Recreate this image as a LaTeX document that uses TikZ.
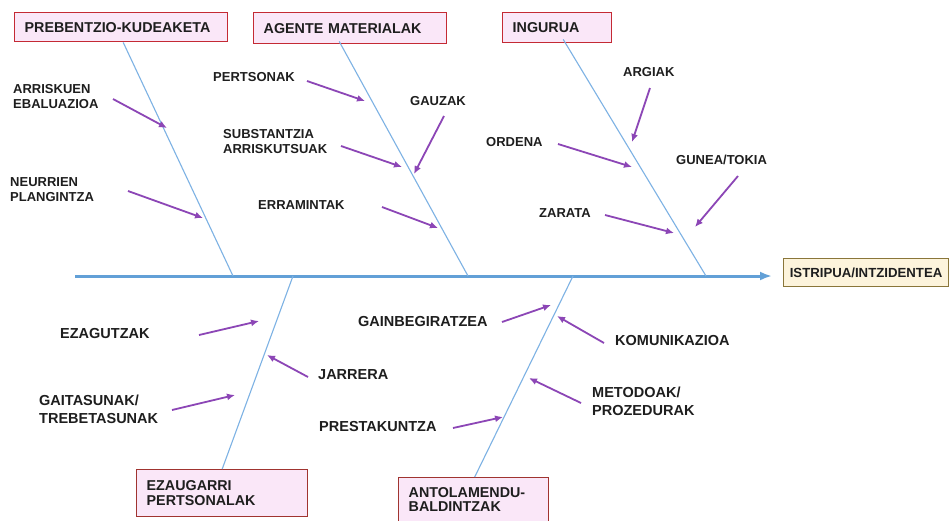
\documentclass[tikz,border=0pt]{standalone}
\usepackage{fontspec}
\setmainfont{Liberation Sans}
\usepackage{tikz}
\usetikzlibrary{calc, arrows.meta, positioning}
\usepackage{xcolor}

\definecolor{spineblue}{RGB}{98,160,215}
\definecolor{boneblue}{RGB}{125,178,228}
\definecolor{causepurple}{RGB}{140,70,182}
\definecolor{catfill}{RGB}{250,231,248}
\definecolor{catred}{RGB}{196,42,52}
\definecolor{catbrown}{RGB}{160,52,48}
\definecolor{resfill}{RGB}{253,244,220}
\definecolor{resdraw}{RGB}{138,118,58}
\definecolor{txtgray}{RGB}{30,30,30}

\begin{document}
\begin{tikzpicture}[x=1pt, y=-1pt,
    catbox/.style={draw=catred, line width=1.4pt, fill=catfill, anchor=north west,
      inner xsep=10pt, align=left, text=txtgray, font=\bfseries\fontsize{14.3}{14.5}\selectfont},
    resbox/.style={draw=resdraw, line width=1.1pt, fill=resfill, anchor=north west,
      minimum width=165pt, minimum height=28pt, inner sep=0pt, text=txtgray,
      font=\bfseries\fontsize{13.2}{15}\selectfont},
    toplbl/.style={anchor=west, inner sep=0pt, align=left, text=txtgray,
      font=\bfseries\fontsize{13}{15}\selectfont},
    botlbl/.style={anchor=west, inner sep=0pt, align=left, text=txtgray,
      font=\bfseries\fontsize{14.5}{18}\selectfont},
    spine/.style={draw=spineblue, line width=3pt, -{Latex[length=12pt,width=9pt]}},
    bone/.style={draw=boneblue, line width=1.1pt},
    cause/.style={draw=causepurple, line width=1.8pt, -{Latex[length=8pt,width=7pt]}}]
  \clip (0,0) rectangle (952,520);
  \fill[white] (0,0) rectangle (952,520);

  % category boxes
  \node[catbox, text width=193pt, minimum height=29pt] (cat-pre) at (14,12) {PREBENTZIO-KUDEAKETA};
  \node[catbox, text width=173pt, minimum height=31pt] (cat-age) at (253,12) {AGENTE MATERIALAK};
  \node[catbox, text width=89pt, minimum height=30pt] (cat-ing) at (502,12) {INGURUA};
  \node[catbox, draw=catbrown, text width=151pt, minimum height=47pt] (cat-eza) at (136,469) {EZAUGARRI\\PERTSONALAK};
  \node[catbox, draw=catbrown, text width=130pt, minimum height=44pt] (cat-ant) at (398,477) {ANTOLAMENDU-\\BALDINTZAK};
  \node[resbox] (res) at (783,258) {ISTRIPUA/INTZIDENTEA};

  % spine and bones
  \coordinate (sp0) at (75,276);
  \draw[spine, shorten >=11pt] (sp0) -- (sp0 -| res.west);
  \coordinate (b-pre) at (233,276);
  \coordinate (b-age) at (468,276);
  \coordinate (b-ing) at (706,276);
  \coordinate (b-eza) at (293,276);
  \coordinate (b-ant) at (573,276);
  \draw[bone] ([xshift=2pt]cat-pre.south) -- (b-pre);
  \draw[bone] ([xshift=-11pt,yshift=3pt]cat-age.south) -- (b-age);
  \draw[bone] ([xshift=6pt,yshift=4pt]cat-ing.south) -- (b-ing);
  \draw[bone] (b-eza) -- (cat-eza.north);
  \draw[bone] (b-ant) -- ([xshift=1pt]cat-ant.north);

  % causes, upper half
  \node[toplbl] (l-arr) at (13,97) {ARRISKUEN\\EBALUAZIOA};
  \node[toplbl] (l-neu) at (10,190) {NEURRIEN\\PLANGINTZA};
  \node[toplbl] (l-per) at (213,77) {PERTSONAK};
  \node[toplbl] (l-gau) at (410,101) {GAUZAK};
  \node[toplbl] (l-sub) at (223,142) {SUBSTANTZIA\\ARRISKUTSUAK};
  \node[toplbl] (l-err) at (258,205) {ERRAMINTAK};
  \node[toplbl] (l-arg) at (623,72) {ARGIAK};
  \node[toplbl] (l-ord) at (486,142) {ORDENA};
  \node[toplbl] (l-gun) at (676,160) {GUNEA/TOKIA};
  \node[toplbl] (l-zar) at (539,213) {ZARATA};

  % causes, lower half
  \node[botlbl] (l-eza) at (60,334) {EZAGUTZAK};
  \node[botlbl] (l-jar) at (318,375) {JARRERA};
  \node[botlbl] (l-gai) at (39,409) {GAITASUNAK/\\TREBETASUNAK};
  \node[botlbl] (l-gain) at (358,321) {GAINBEGIRATZEA};
  \node[botlbl] (l-kom) at (615,340) {KOMUNIKAZIOA};
  \node[botlbl] (l-met) at (592,401) {METODOAK/\\PROZEDURAK};
  \node[botlbl] (l-pre) at (319,426) {PRESTAKUNTZA};

  % arrow tails and heads
  \foreach \n/\tx/\ty/\hx/\hy in {arr/113/99/167/128, neu/128/191/203/218,
      per/307/81/365/101, sub/341/146/402/167, gau/444/116/414/174, err/382/207/438/228,
      arg/650/88/632/142, ord/558/144/632/167, gun/738/176/695/227, zar/605/215/674/233,
      eza/199/335/259/321, jar/308/377/267/355, gai/172/410/235/395,
      gain/502/322/551/305, kom/604/343/557/316, met/581/403/529/378, pre/453/428/503/417} {
    \coordinate (t-\n) at (\tx,\ty);
    \coordinate (h-\n) at (\hx,\hy);
    \draw[cause] (t-\n) -- (h-\n);
  }
\end{tikzpicture}
\end{document}
